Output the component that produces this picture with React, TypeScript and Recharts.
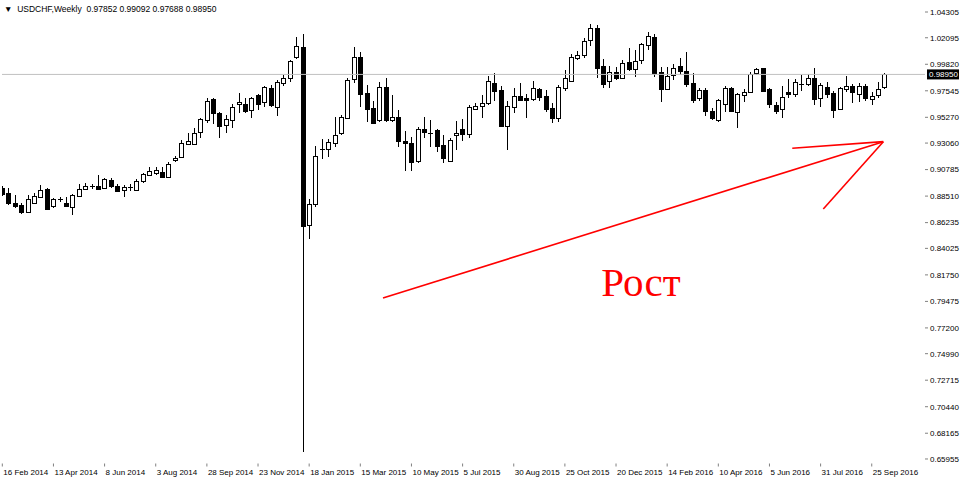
import React from 'react'
import {
  ComposedChart,
  Bar,
  XAxis,
  YAxis,
  ReferenceLine,
  ReferenceArea,
  ReferenceDot,
} from 'recharts'

const symbol = 'USDCHF,Weekly'

// weekly candles, 16 Feb 2014 .. 9 Oct 2016
const opens = [
  0.892, 0.8875, 0.8794, 0.8775, 0.8709, 0.8794, 0.8841, 0.8914, 0.8766, 0.8824,
  0.8794, 0.876, 0.8858, 0.8914, 0.8935, 0.8938, 0.8918, 0.8989, 0.8938, 0.8908,
  0.8924, 0.8903, 0.8975, 0.9032, 0.9049, 0.9058, 0.9012, 0.9161, 0.918, 0.9301,
  0.9304, 0.9395, 0.951, 0.9682, 0.9567, 0.9461, 0.951, 0.9641, 0.9641, 0.9584,
  0.9721, 0.9652, 0.9776, 0.9618, 0.9827, 0.9862, 1.0042, 1.0128, 0.8603, 0.8783,
  0.925, 0.9253, 0.9304, 0.9395, 0.9519, 0.9862, 1.0047, 0.9738, 0.9604, 0.9504,
  0.979, 0.9498, 0.9527, 0.9326, 0.9309, 0.9146, 0.9424, 0.9392, 0.9415, 0.9289,
  0.9155, 0.9369, 0.9424, 0.939, 0.9604, 0.9618, 0.9647, 0.9824, 0.9761, 0.9455,
  0.9618, 0.9712, 0.969, 0.969, 0.977, 0.9712, 0.9609, 0.9524, 0.9781, 0.9839,
  1.0038, 1.0062, 1.019, 1.0296, 0.997, 0.9839, 0.9918, 0.9862, 1.0004, 0.9941,
  1.0019, 1.0153, 1.0219, 0.9913, 0.977, 0.989, 0.997, 0.9924, 0.9819, 0.969,
  0.9761, 0.9584, 0.9504, 0.9647, 0.9781, 0.957, 0.9712, 0.9742, 0.9905, 0.9946,
  0.977, 0.9633, 0.9598, 0.9742, 0.9724, 0.9812, 0.981, 0.9867, 0.969, 0.979,
  0.9733, 0.9598, 0.9776, 0.9798, 0.9733, 0.9798, 0.969, 0.9712, 0.97852,
]
const highs = [
  0.8938, 0.892, 0.886, 0.8794, 0.886, 0.8878, 0.8944, 0.8923, 0.8832, 0.8841,
  0.8846, 0.8869, 0.8952, 0.8966, 0.8952, 0.9029, 0.9004, 0.9004, 0.8955, 0.8946,
  0.8952, 0.8995, 0.9047, 0.9098, 0.9103, 0.9098, 0.9146, 0.9195, 0.9332, 0.939,
  0.9433, 0.9519, 0.969, 0.969, 0.9575, 0.9547, 0.9641, 0.9738, 0.969, 0.9699,
  0.9727, 0.9796, 0.9804, 0.9847, 0.989, 1.0019, 1.0213, 1.0242, 0.8824, 0.9285,
  0.9338, 0.9338, 0.9527, 0.9547, 0.9862, 1.0128, 1.009, 0.9804, 0.9669, 0.9833,
  0.9862, 0.9721, 0.959, 0.9412, 0.9355, 0.9441, 0.9532, 0.9504, 0.9424, 0.9375,
  0.9347, 0.9498, 0.951, 0.9633, 0.9647, 0.9721, 0.9884, 0.9905, 0.9798, 0.9667,
  0.9776, 0.9819, 0.9724, 0.9839, 0.9781, 0.9761, 0.9647, 0.9804, 0.9933, 1.0068,
  1.0096, 1.021, 1.0325, 1.0319, 1.0027, 0.997, 0.9961, 1.0019, 1.0119, 1.0104,
  1.0162, 1.0256, 1.0239, 0.9961, 0.9961, 0.9982, 1.0033, 1.009, 0.9905, 0.9781,
  0.9776, 0.9604, 0.9684, 0.9798, 0.979, 0.9733, 0.977, 0.9918, 0.9947, 0.9953,
  0.9776, 0.9661, 0.9798, 0.9856, 0.9856, 0.989, 0.9896, 0.9947, 0.9819, 0.9827,
  0.9753, 0.979, 0.9884, 0.981, 0.9819, 0.981, 0.9742, 0.9833, 0.99092,
]
const lows = [
  0.8852, 0.8775, 0.8749, 0.8697, 0.8703, 0.8783, 0.8832, 0.8732, 0.8746, 0.8803,
  0.876, 0.8689, 0.8846, 0.8908, 0.8912, 0.8903, 0.8908, 0.8918, 0.8889, 0.8846,
  0.8895, 0.8897, 0.8966, 0.9024, 0.9036, 0.9006, 0.9006, 0.9146, 0.9175, 0.9289,
  0.9298, 0.9347, 0.9476, 0.947, 0.9347, 0.939, 0.9433, 0.9567, 0.9561, 0.9519,
  0.959, 0.9613, 0.9613, 0.9538, 0.9796, 0.9833, 1.0025, 0.6655, 0.848, 0.8755,
  0.9167, 0.9184, 0.927, 0.9375, 0.951, 0.9819, 0.9618, 0.9489, 0.9474, 0.9489,
  0.9489, 0.9489, 0.927, 0.9069, 0.9069, 0.9138, 0.9347, 0.9275, 0.9232, 0.9138,
  0.9146, 0.9247, 0.9324, 0.9352, 0.959, 0.9524, 0.9633, 0.9667, 0.9446, 0.9247,
  0.9561, 0.9667, 0.9524, 0.9667, 0.9667, 0.9575, 0.9476, 0.9484, 0.9753, 0.9833,
  1.0019, 1.0038, 1.0141, 0.9867, 0.9781, 0.9781, 0.9847, 0.9856, 0.9924, 0.9875,
  0.9982, 1.0104, 0.9875, 0.9656, 0.9761, 0.9847, 0.989, 0.979, 0.9647, 0.9667,
  0.9541, 0.9504, 0.9489, 0.957, 0.957, 0.9438, 0.9661, 0.9733, 0.989, 0.9745,
  0.9604, 0.9553, 0.9519, 0.9695, 0.9704, 0.9753, 0.9798, 0.9633, 0.9618, 0.9695,
  0.9524, 0.959, 0.9742, 0.9647, 0.9656, 0.9667, 0.9633, 0.969, 0.97688,
]
const closes = [
  0.8869, 0.8789, 0.8766, 0.8717, 0.8824, 0.8852, 0.8903, 0.8743, 0.8824, 0.882,
  0.8766, 0.886, 0.8914, 0.8938, 0.8932, 0.8914, 0.8995, 0.8938, 0.8895, 0.8932,
  0.8927, 0.8981, 0.9038, 0.9069, 0.9079, 0.9012, 0.9126, 0.918, 0.9304, 0.9326,
  0.9395, 0.951, 0.9669, 0.9561, 0.9452, 0.951, 0.9618, 0.9661, 0.9584, 0.969,
  0.9647, 0.9784, 0.9633, 0.9833, 0.9867, 1.001, 1.0139, 0.8588, 0.8783, 0.9195,
  0.9258, 0.9315, 0.9373, 0.9532, 0.9847, 1.0047, 0.9733, 0.9604, 0.9476, 0.9784,
  0.9504, 0.9527, 0.9318, 0.9309, 0.9146, 0.9424, 0.9395, 0.939, 0.9275, 0.9175,
  0.9332, 0.939, 0.9384, 0.9618, 0.9627, 0.9647, 0.9839, 0.9753, 0.9452, 0.9627,
  0.9712, 0.9675, 0.9675, 0.9781, 0.9704, 0.9604, 0.9524, 0.979, 0.9867, 1.0047,
  1.0062, 1.0182, 1.0291, 0.9953, 0.9819, 0.9913, 0.9867, 0.999, 0.9941, 1.001,
  1.0153, 1.0227, 0.9913, 0.977, 0.9884, 0.9953, 0.9924, 0.981, 0.9675, 0.9761,
  0.9584, 0.9524, 0.9675, 0.9781, 0.9584, 0.9724, 0.9742, 0.9896, 0.9941, 0.9748,
  0.9639, 0.9584, 0.9704, 0.9721, 0.9827, 0.981, 0.9862, 0.969, 0.9804, 0.9733,
  0.959, 0.9776, 0.9798, 0.9747, 0.9798, 0.9695, 0.9712, 0.9767, 0.9895,
]

// one label every 8 bars, starting at the first bar
const dateLabels = [
  '16 Feb 2014', '13 Apr 2014', '8 Jun 2014', '3 Aug 2014', '28 Sep 2014',
  '23 Nov 2014', '18 Jan 2015', '15 Mar 2015', '10 May 2015', '5 Jul 2015',
  '30 Aug 2015', '25 Oct 2015', '20 Dec 2015', '14 Feb 2016', '10 Apr 2016',
  '5 Jun 2016', '31 Jul 2016', '25 Sep 2016',
]
const priceTicks = [
  1.04305, 1.02095, 0.9982, 0.97545, 0.9527, 0.9306, 0.90785, 0.8851, 0.86235,
  0.84025, 0.8175, 0.79475, 0.772, 0.7499, 0.72715, 0.7044, 0.68165, 0.65955,
]

// hand-drawn annotation, in bar index / price units
const arrowShaft = [{ x: 59.55, y: 0.7977 }, { x: 137.81, y: 0.9318 }]
const arrowWingTop = [{ x: 123.57, y: 0.9261 }, { x: 137.81, y: 0.9318 }]
const arrowWingLow = [{ x: 128.42, y: 0.874 }, { x: 137.81, y: 0.9318 }]
const note = { text: 'Рост', x: 99.9, y: 0.7996 }

const FONT = '"Liberation Sans", Arial, sans-serif'
const FRAME = '#808080'

const data = opens.map((open, i) => ({
  i,
  open,
  high: highs[i],
  low: lows[i],
  close: closes[i],
  range: [lows[i], highs[i]],
}))
const last = data[data.length - 1]
const fmt = (v: number) => v.toFixed(5)
const tickIdx = dateLabels.map((_, k) => k * 8)

function Candle(props: any) {
  const { x, y, width, height, payload } = props
  if (x == null || y == null || !payload) return null
  const { open, close, high, low } = payload
  const top = Math.min(y, y + height)
  const h = Math.abs(height)
  const span = high - low || 1
  const py = (v: number) => top + ((high - v) / span) * h
  const c = Math.floor(x + width / 2)
  const bodyTop = py(Math.max(open, close))
  const bodyBot = py(Math.min(open, close))
  const bh = bodyBot - bodyTop
  const bull = close >= open
  return (
    <g shapeRendering="crispEdges">
      <line x1={c + 0.5} x2={c + 0.5} y1={top} y2={top + h} stroke="#000" />
      {bh < 1.2 ? (
        <line
          x1={c - 2}
          x2={c + 3}
          y1={Math.round(bodyTop) + 0.5}
          y2={Math.round(bodyTop) + 0.5}
          stroke="#000"
        />
      ) : (
        <rect
          x={c - 1.5}
          y={Math.round(bodyTop) + 0.5}
          width={4}
          height={Math.max(1, Math.round(bh))}
          fill={bull ? '#fff' : '#000'}
          stroke="#000"
        />
      )}
    </g>
  )
}

function DateTick({ x, y, payload }: any) {
  return (
    <text x={x + 1} y={y + 6} fontSize={8} fontFamily={FONT} fill="#000">
      {dateLabels[Math.round(payload.value / 8)]}
    </text>
  )
}

function PriceTag({ viewBox }: any) {
  if (!viewBox) return null
  const x = viewBox.x + viewBox.width + 2
  const y = viewBox.y
  return (
    <g>
      <rect x={x} y={y - 5} width={32} height={10} fill="#000" />
      <text x={x + 2} y={y + 3} fontSize={8} fontFamily={FONT} fill="#fff">
        {fmt(last.close)}
      </text>
    </g>
  )
}

export default function App() {
  return (
    <div
      style={{
        position: 'fixed',
        left: 0,
        top: 0,
        width: 960,
        height: 480,
        background: '#fff',
      }}
    >
      <ComposedChart
        width={960}
        height={480}
        data={data}
        margin={{ top: 2, right: 0, bottom: 0, left: 2 }}
      >
        <XAxis
          type="number"
          dataKey="i"
          domain={[-0.047, 144.33]}
          allowDataOverflow
          ticks={tickIdx}
          interval={0}
          height={16.5}
          axisLine={false}
          tickLine={{ stroke: FRAME }}
          tickSize={3}
          tick={<DateTick />}
        />
        <YAxis
          orientation="right"
          type="number"
          domain={[0.65567, 1.05163]}
          allowDataOverflow
          ticks={priceTicks}
          interval={0}
          width={35}
          axisLine={false}
          tickLine={{ stroke: FRAME }}
          tickSize={3}
          tickFormatter={fmt}
          tick={{ fontSize: 8, fontFamily: FONT, fill: '#000' }}
        />
        <ReferenceLine
          y={last.close}
          stroke="#c0c0c0"
          strokeWidth={1}
          label={(p: any) => <PriceTag {...p} />}
        />
        <Bar
          dataKey="range"
          barSize={5}
          shape={(p: any) => <Candle {...p} />}
          isAnimationActive={false}
        />
        <ReferenceLine segment={arrowShaft} stroke="#ff0000" strokeWidth={1.6} />
        <ReferenceLine segment={arrowWingTop} stroke="#ff0000" strokeWidth={1.6} />
        <ReferenceLine segment={arrowWingLow} stroke="#ff0000" strokeWidth={1.6} />
        <ReferenceDot
          x={note.x}
          y={note.y}
          r={0}
          shape={(p: any) => (
            <text
              x={p.cx}
              y={p.cy}
              textAnchor="middle"
              fontSize={41}
              fontFamily='"Liberation Serif", "Times New Roman", serif'
              fill="#ff0000"
            >
              {note.text}
            </text>
          )}
        />
        <ReferenceArea fill="none" stroke={FRAME} strokeWidth={1.5} fillOpacity={0} />
      </ComposedChart>
      <div
        style={{
          position: 'absolute',
          left: 4,
          top: 4,
          fontFamily: FONT,
          fontSize: 8.5,
          lineHeight: '10px',
          color: '#000',
          whiteSpace: 'pre',
        }}
      >
        {`▼  ${symbol}  ${fmt(last.open)} ${fmt(last.high)} ${fmt(last.low)} ${fmt(last.close)}`}
      </div>
    </div>
  )
}
